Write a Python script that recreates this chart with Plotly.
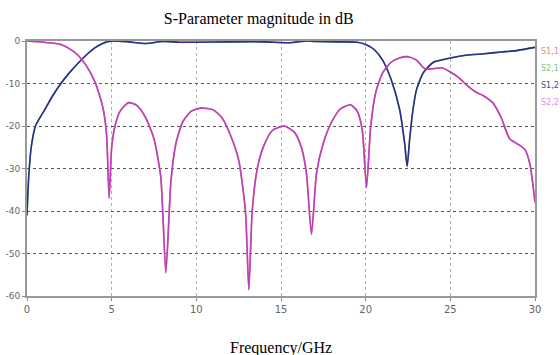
import plotly.graph_objects as go

# S2,2 / S1,1 (reflection) magnitude, dB
refl_f = [0, 1, 2, 2.5, 3, 3.5, 4, 4.3, 4.5, 4.7, 4.85, 5.0, 5.2, 5.5, 6, 6.5, 7, 7.5, 7.9, 8.2,
          8.5, 8.8, 9.2, 9.7, 10.3, 11, 11.5, 12, 12.5, 12.9, 13.1, 13.3, 13.6, 14, 14.5, 15.2,
          15.8, 16.2, 16.5, 16.8, 17.1, 17.5, 18, 18.5, 19.1, 19.5, 19.8, 20.05, 20.3, 20.6, 21,
          21.5, 22, 22.5, 23, 23.5, 24, 24.5, 25, 25.5, 26, 26.5, 27, 27.5, 28, 28.5, 29, 29.4,
          29.7, 30]
refl_db = [0, -0.3, -0.8, -1.8, -3.3, -5.8, -9.5, -13, -16, -22, -37, -25, -20, -16.5, -14.5,
           -15.2, -18, -23, -32, -54.5, -33, -24, -19, -16.5, -15.8, -16.2, -18, -22, -28, -40,
           -58.5, -40, -30, -24.5, -21, -20, -21.5, -25, -31, -45.5, -31, -24, -19, -16, -15,
           -16.5, -21, -34.5, -20, -12, -7.5, -5, -4, -3.7, -4.5, -6.5, -6.5, -6.3, -7.3, -8.6,
           -10.5, -12, -13, -14.5, -18, -23, -24.3, -25.5, -29, -38]

# S1,2 / S2,1 (transmission) magnitude, dB
trans_f = [0, 0.1, 0.25, 0.5, 1, 1.5, 2, 2.5, 3, 3.5, 4, 4.5, 5, 6, 7, 8, 9, 10, 12, 14, 15.5,
           16.5, 17, 18.5, 19.5, 20, 20.5, 21, 21.5, 22, 22.3, 22.45, 22.6, 22.8, 23, 23.4, 24,
           25, 26, 27, 28, 29, 30]
trans_db = [-41, -32, -25, -20, -16.5, -13, -10, -7.5, -5.3, -3.3, -1.6, -0.5, 0, -0.2, -0.6,
            -0.1, -0.3, -0.3, -0.2, -0.2, -0.4, 0, -0.1, -0.2, -0.3, -0.8, -2, -4.5, -9, -16,
            -24, -29.5, -23, -16, -11.5, -7.5, -5, -4, -3.3, -3, -2.6, -2.2, -1.5]

series_names = ["S1,1", "S2,1", "S1,2", "S2,2"]
series_colors = ["#e0907a", "#7cc47c", "#3c4aa0", "#e08ee0"]
line_colors = ["#e0907a", "#7cc47c", "#2b2b90", "#bd3fbf"]

x_ticks = [0, 5, 10, 15, 20, 25, 30]
y_ticks = [0, -10, -20, -30, -40, -50, -60]
y_tick_text = ["0", "-10", "-20", "-30", "-40", "-50", "-60"]

fig = go.Figure()
data = [(refl_f, refl_db), (trans_f, trans_db), (trans_f, trans_db), (refl_f, refl_db)]
for name, (xs, ys), col in zip(series_names, data, line_colors):
    fig.add_trace(go.Scatter(x=xs, y=ys, mode="lines", name=name,
                             line=dict(color=col, width=1.6, shape="spline", smoothing=0.6),
                             showlegend=False))

for i, (name, col) in enumerate(zip(series_names, series_colors)):
    fig.add_annotation(x=1.0, y=0.96 - i * 0.067, xref="paper", yref="paper",
                       xshift=4, text=name, showarrow=False, xanchor="left", yanchor="middle",
                       font=dict(family="DejaVu Sans", size=8, color=col))

fig.add_annotation(x=0.5, y=-0.204, xref="paper", yref="paper", text="Frequency/GHz",
                   showarrow=False, yanchor="middle",
                   font=dict(family="Liberation Serif", size=16, color="#000"))

fig.update_layout(
    width=560, height=355,
    margin=dict(l=27, r=25, t=41, b=59, autoexpand=False),
    paper_bgcolor="white", plot_bgcolor="white",
    title=dict(text="S-Parameter magnitude in dB", x=0.462, xanchor="center",
               y=1 - 18 / 355, yanchor="middle",
               font=dict(family="Liberation Serif", size=16, color="#000")),
)
fig.update_xaxes(range=[0, 30], tickvals=x_ticks, ticks="outside", ticklen=3, tickcolor="#888",
                 automargin=False,
                 showgrid=True, gridcolor="#b0b0b0", griddash="dot", gridwidth=1,
                 showline=True, linecolor="#999", linewidth=2, mirror=True, zeroline=False,
                 tickfont=dict(family="DejaVu Sans", size=10, color="#666"))
fig.update_yaxes(range=[-60, 0], tickvals=y_ticks, ticktext=y_tick_text, ticks="outside",
                 ticklen=3, tickcolor="#888", automargin=False,
                 showgrid=True, gridcolor="#555", griddash="dot", gridwidth=1,
                 showline=True, linecolor="#999", linewidth=2, mirror=True, zeroline=False,
                 tickfont=dict(family="DejaVu Sans", size=9, color="#666"))

fig.write_html("out.html", config={"displayModeBar": False},
               post_script="document.body.style.margin='0';document.body.style.overflow='hidden';")
